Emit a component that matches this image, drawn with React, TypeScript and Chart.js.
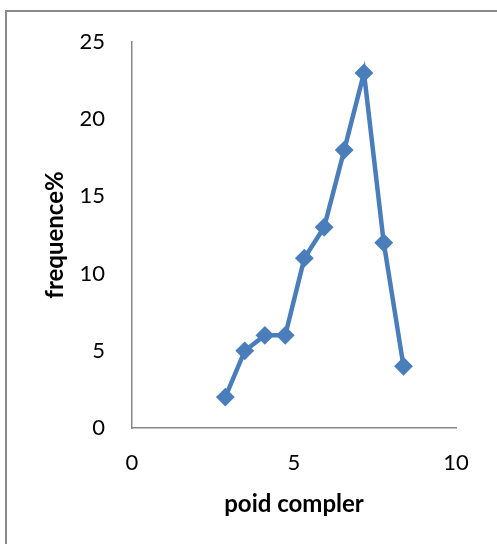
import React, { useEffect, useRef } from "react";
import { Chart, registerables } from "chart.js";

Chart.register(...registerables);

const xValues = [2.88, 3.48, 4.1, 4.73, 5.32, 5.93, 6.55, 7.16, 7.77, 8.38];
const yValues = [2, 5, 6, 6, 11, 13, 18, 23, 12, 4];
const xTitle = "poid compler";
const yTitle = "frequence%";

export default function App() {
  const ref = useRef<HTMLCanvasElement | null>(null);

  useEffect(() => {
    if (!ref.current) return;
    const points = xValues.map((x, i) => ({ x, y: yValues[i] }));
    const chart = new Chart(ref.current, {
      type: "scatter",
      data: {
        datasets: [
          {
            data: points,
            showLine: true,
            borderColor: "#4A7EBB",
            backgroundColor: "#4A7EBB",
            borderWidth: 4.5,
            pointStyle: "rectRot",
            pointRadius: 8,
            pointBorderWidth: 2,
            pointBorderColor: "#4A7EBB",
            pointBackgroundColor: "#4A7EBB",
            tension: 0,
          },
        ],
      },
      options: {
        animation: false,
        responsive: false,
        devicePixelRatio: 1,
        layout: { padding: { left: 0, right: 41, top: 42, bottom: 0 } },
        plugins: {
          legend: { display: false },
          tooltip: { enabled: false },
        },
        scales: {
          x: {
            type: "linear",
            min: 0,
            max: 10,
            afterFit: (s: any) => {
              s.height = 116;
            },
            grid: { display: false, drawTicks: false },
            border: { display: true, color: "#868686", width: 1.5 },
            ticks: {
              stepSize: 5,
              padding: 22,
              color: "#000",
              font: { family: "Lato", size: 22 },
            },
            title: {
              display: true,
              text: xTitle,
              color: "#000",
              font: { family: "Lato", size: 24, weight: "bold" },
              padding: { top: 0, bottom: 25 },
            },
          },
          y: {
            type: "linear",
            min: 0,
            max: 25,
            afterFit: (s: any) => {
              s.width = 132;
            },
            grid: { display: false, drawTicks: false },
            border: { display: true, color: "#868686", width: 1.5 },
            ticks: {
              stepSize: 5,
              padding: 27,
              color: "#000",
              font: { family: "Lato", size: 22 },
            },
            title: {
              display: true,
              text: yTitle,
              color: "#000",
              font: { family: "Lato", size: 24, weight: "bold" },
              padding: { top: 41, bottom: 0 },
            },
          },
        },
      },
    });
    return () => chart.destroy();
  }, []);

  return (
    <div
      style={{
        position: "absolute",
        left: 0,
        top: 0,
        width: 497,
        height: 544,
        background: "#fff",
        overflow: "hidden",
      }}
    >
      <canvas ref={ref} width={497} height={544} style={{ display: "block" }} />
      <div
        style={{
          position: "absolute",
          left: 5,
          top: 10,
          width: 500,
          height: 540,
          borderLeft: "2px solid #8a8a8a",
          borderTop: "2px solid #8a8a8a",
          pointerEvents: "none",
        }}
      />
    </div>
  );
}
